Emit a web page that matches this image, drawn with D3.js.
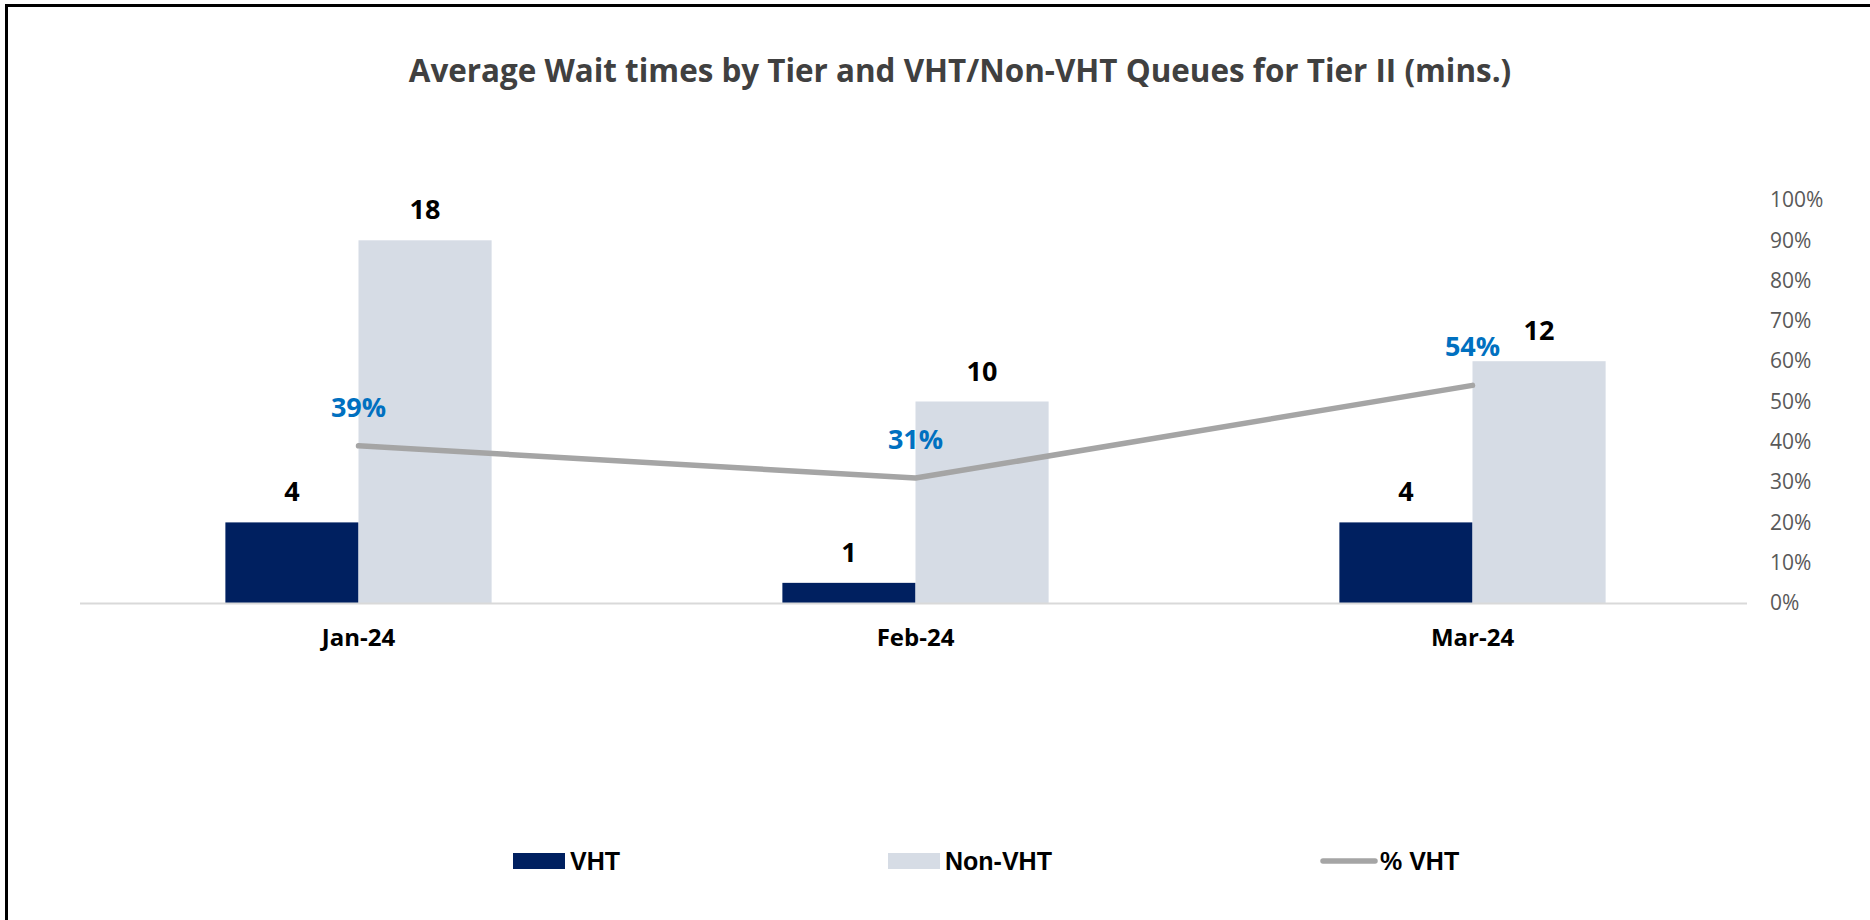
<!DOCTYPE html>
<html>
<head>
<meta charset="utf-8">
<script src="https://cdn.jsdelivr.net/npm/d3@7"></script>
<style>
  body { margin: 0; background: #fff; }
  svg { display: block; }
</style>
</head>
<body>
<div id="chart"></div>
<script>
// chart data
var months = ["Jan-24", "Feb-24", "Mar-24"];
var vhtWait = [4, 1, 4];
var nonVhtWait = [18, 10, 12];
var pctVht = [0.39, 0.31, 0.54];
var pctTicks = [0, 0.1, 0.2, 0.3, 0.4, 0.5, 0.6, 0.7, 0.8, 0.9, 1];
var legendNames = ["VHT", "Non-VHT", "% VHT"];

var width = 1870;
var height = 920;
var plot = { left: 80, right: 1751, top: 200, bottom: 603 };

var svg = d3.select("#chart")
  .append("svg")
  .attr("width", width)
  .attr("height", height);

// frame (only top and left edges show)
svg.append("line").attr("x1", 5).attr("x2", width).attr("y1", 5.5).attr("y2", 5.5)
  .attr("stroke", "#000").attr("stroke-width", 3);
svg.append("line").attr("x1", 6.5).attr("x2", 6.5).attr("y1", 4).attr("y2", height)
  .attr("stroke", "#000").attr("stroke-width", 3);

// title
svg.append("text")
  .attr("x", 960)
  .attr("y", 82)
  .attr("text-anchor", "middle")
  .style("font-family", "'Open Sans', sans-serif")
  .style("font-weight", "bold")
  .style("font-size", "31.4px")
  .style("fill", "#404040")
  .text("Average Wait times by Tier and VHT/Non-VHT Queues for Tier II (mins.)");

var x = d3.scaleBand()
  .domain(months)
  .range([plot.left, plot.right])
  .padding(0);

var barW = x.bandwidth() * 0.239;

var yLeft = d3.scaleLinear().domain([0, 20]).range([plot.bottom, plot.top]);
var yRight = d3.scaleLinear().domain([0, 1]).range([plot.bottom, plot.top]);

function cx(m) { return x(m) + x.bandwidth() / 2; }

// bars
svg.append("g").selectAll("rect")
  .data(months)
  .join("rect")
  .attr("x", function(d) { return cx(d) - barW; })
  .attr("y", function(d, i) { return yLeft(vhtWait[i]); })
  .attr("width", barW)
  .attr("height", function(d, i) { return plot.bottom - yLeft(vhtWait[i]); })
  .attr("fill", "#002060");

svg.append("g").selectAll("rect")
  .data(months)
  .join("rect")
  .attr("x", function(d) { return cx(d); })
  .attr("y", function(d, i) { return yLeft(nonVhtWait[i]); })
  .attr("width", barW)
  .attr("height", function(d, i) { return plot.bottom - yLeft(nonVhtWait[i]); })
  .attr("fill", "#D6DCE5");

// baseline
svg.append("line")
  .attr("x1", plot.left).attr("x2", plot.right - 4)
  .attr("y1", plot.bottom + 0.5).attr("y2", plot.bottom + 0.5)
  .attr("stroke", "#D9D9D9").attr("stroke-width", 2);

// bottom axis labels
var xAxis = svg.append("g")
  .attr("transform", "translate(0," + plot.bottom + ")")
  .call(d3.axisBottom(x).tickSize(0).tickPadding(26));
xAxis.select(".domain").remove();
xAxis.selectAll("text")
  .style("font-family", "'Open Sans', sans-serif")
  .style("font-weight", "bold")
  .style("font-size", "24px")
  .style("fill", "#000");

// right axis
var yAxis = svg.append("g")
  .attr("transform", "translate(1770,0)")
  .call(d3.axisRight(yRight).tickValues(pctTicks).tickFormat(d3.format(".0%")).tickSize(0).tickPadding(0));
yAxis.select(".domain").remove();
yAxis.selectAll("text")
  .style("font-family", "'Open Sans', sans-serif")
  .style("font-size", "21px")
  .style("fill", "#595959");

// value labels
var labelStyle = function(sel) {
  sel.attr("text-anchor", "middle")
    .style("font-family", "'Open Sans', sans-serif")
    .style("font-weight", "bold")
    .style("font-size", "27px")
    .style("fill", "#000");
};
svg.append("g").selectAll("text")
  .data(months)
  .join("text")
  .attr("x", function(d) { return cx(d) - barW / 2; })
  .attr("y", function(d, i) { return yLeft(vhtWait[i]) - 21; })
  .text(function(d, i) { return vhtWait[i]; })
  .call(labelStyle);
svg.append("g").selectAll("text")
  .data(months)
  .join("text")
  .attr("x", function(d) { return cx(d) + barW / 2; })
  .attr("y", function(d, i) { return yLeft(nonVhtWait[i]) - 21; })
  .text(function(d, i) { return nonVhtWait[i]; })
  .call(labelStyle);

// % VHT line
var line = d3.line()
  .x(function(d, i) { return cx(months[i]); })
  .y(function(d) { return yRight(d); });
svg.append("path")
  .datum(pctVht)
  .attr("d", line)
  .attr("fill", "none")
  .attr("stroke", "#A5A5A5")
  .attr("stroke-width", 5.5)
  .attr("stroke-linecap", "round")
  .attr("stroke-linejoin", "round");

svg.append("g").selectAll("text")
  .data(pctVht)
  .join("text")
  .attr("x", function(d, i) { return cx(months[i]); })
  .attr("y", function(d) { return yRight(d) - 29; })
  .attr("text-anchor", "middle")
  .style("font-family", "'Open Sans', sans-serif")
  .style("font-weight", "bold")
  .style("font-size", "27px")
  .style("fill", "#0070C0")
  .text(function(d) { return d3.format(".0%")(d); });

// legend
var legendX = [513, 888, 1321];
var legend = svg.append("g");
legend.append("rect").attr("x", legendX[0]).attr("y", 853).attr("width", 52).attr("height", 16).attr("fill", "#002060");
legend.append("rect").attr("x", legendX[1]).attr("y", 853).attr("width", 52).attr("height", 16).attr("fill", "#D6DCE5");
legend.append("line").attr("x1", legendX[2] + 2).attr("x2", legendX[2] + 54)
  .attr("y1", 861).attr("y2", 861)
  .attr("stroke", "#A5A5A5").attr("stroke-width", 5.5).attr("stroke-linecap", "round");
legend.selectAll("text")
  .data(legendNames)
  .join("text")
  .attr("x", function(d, i) { return legendX[i] + (i === 2 ? 59 : 57); })
  .attr("y", 870)
  .style("font-family", "'Liberation Sans', Arial, sans-serif")
  .style("font-weight", "bold")
  .style("font-size", "25px")
  .style("fill", "#000")
  .text(function(d) { return d; });
</script>
</body>
</html>
